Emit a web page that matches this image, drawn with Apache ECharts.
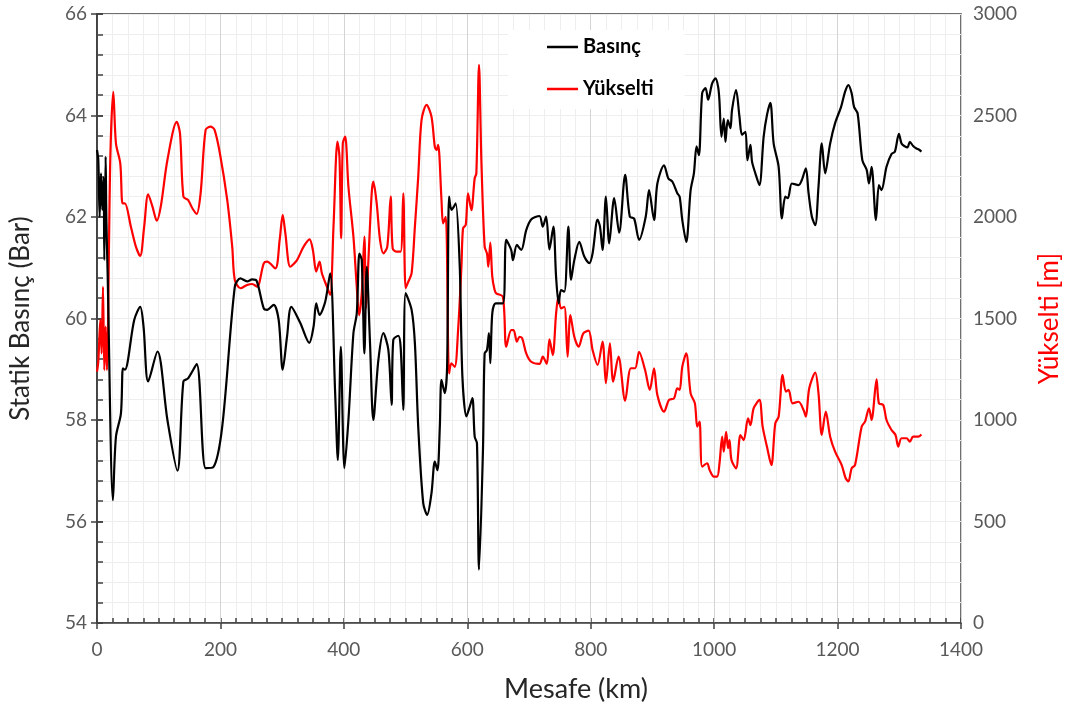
<!DOCTYPE html>
<html>
<head>
<meta charset="utf-8">
<script src="https://cdn.jsdelivr.net/npm/echarts@6/dist/echarts.min.js"></script>
<style>
  html, body { margin: 0; padding: 0; background: #fff; }
  #chart { width: 1071px; height: 711px; }
</style>
</head>
<body>
<div id="chart"></div>
<script>
//----------------------Data----------------------
// Basınç (Bar) vs distance (km)
let basinc_km = [0, 2.1, 4.3, 6.5, 8.6, 10.8, 11.8, 14.0, 15.1, 17.2, 25.8, 30.7, 38.8, 42.0, 45.2, 60.3, 70.0, 75.4, 82.9, 98.0,
    114.1, 130.3, 140.0, 147.5, 161.5, 176.0, 188.4, 202.9, 223.3, 232.5, 243.3, 251.4, 258.4, 270.2, 275.6, 286.3, 294.4, 300.9, 307.9, 314.9,
    329.4, 343.9, 350.9, 355.2, 360.6, 369.8, 377.8, 385.9, 390.2, 395.1, 400.9, 407.4, 415.5, 420.9, 425.2, 429.0, 433.3, 437.1, 442.4, 447.8,
    455.9, 464.0, 472.1, 477.4, 480.1, 488.2, 492.0, 496.3, 500.1, 509.8, 515.1, 520.5, 528.6, 535.0, 542.0, 547.4, 551.7, 555.5, 558.2, 563.5,
    567.3, 570.5, 574.3, 578.1, 581.3, 587.8, 592.1, 598.6, 603.9, 608.3, 612.0, 615.7, 619.0, 625.4, 628.1, 631.9, 635.1, 637.3, 640.5, 645.9,
    657.7, 663.1, 671.2, 673.9, 680.4, 687.4, 695.5, 703.5, 716.9, 722.3, 727.7, 733.1, 739.5, 743.9, 748.1, 751.9, 757.3, 763.8, 768.1, 773.4,
    781.5, 789.6, 797.7, 803.0, 811.1, 815.0, 819.2, 824.6, 830.0, 838.0, 846.1, 855.8, 863.3, 870.3, 878.4, 889.2, 894.5, 902.6, 908.0, 918.8,
    925.8, 932.2, 940.3, 944.1, 948.4, 954.8, 961.9, 967.2, 971.5, 975.3, 980.6, 986.1, 990.3, 996.7, 1002.2, 1006.4, 1008.5, 1011.8, 1015.6, 1018.3,
    1022.1, 1026.4, 1029.0, 1035.5, 1041.0, 1045.2, 1050.7, 1053.9, 1058.8, 1061.4, 1066.8, 1073.3, 1080.2, 1085.6, 1091.1, 1096.4, 1104.5, 1109.8, 1115.3, 1119.5,
    1126.0, 1136.8, 1142.1, 1148.6, 1153.0, 1158.3, 1163.8, 1169.1, 1174.4, 1179.9, 1188.0, 1196.0, 1205.7, 1212.2, 1217.5, 1222.8, 1226.7, 1232.5, 1240.1, 1247.1,
    1250.9, 1255.1, 1262.2, 1267.0, 1271.2, 1279.3, 1287.4, 1292.9, 1299.4, 1303.6, 1309.1, 1313.2, 1317.1, 1322.4, 1327.8, 1331.6, 1335.9];
let basinc_bar = [63.32, 63.12, 62.01, 62.86, 62.14, 62.79, 61.15, 63.19, 62.01, 60.90, 56.42, 57.67, 58.13, 59.02, 58.99, 59.97, 60.23, 59.84, 58.76, 59.35,
    58.00, 57.00, 58.76, 58.82, 59.10, 57.05, 57.07, 57.87, 60.63, 60.79, 60.73, 60.77, 60.75, 60.20, 60.17, 60.27, 59.97, 58.99, 59.64, 60.23,
    59.91, 59.52, 59.84, 60.30, 60.07, 60.33, 60.89, 58.53, 57.21, 59.44, 57.05, 58.00, 59.71, 60.10, 61.28, 61.15, 59.31, 61.02, 59.51, 58.00,
    59.18, 59.71, 59.38, 58.30, 59.58, 59.66, 59.44, 58.20, 60.50, 60.17, 59.51, 57.87, 56.36, 56.13, 56.56, 57.18, 57.01, 57.87, 58.79, 58.53,
    59.05, 62.40, 62.14, 62.20, 62.27, 61.02, 58.85, 58.07, 58.26, 58.43, 57.67, 57.54, 55.05, 57.41, 59.31, 59.38, 59.71, 59.12, 60.10, 60.30,
    60.30, 61.55, 61.35, 61.15, 61.45, 61.35, 61.74, 61.95, 62.02, 61.81, 62.01, 61.36, 61.81, 60.82, 60.30, 60.56, 60.53, 61.81, 60.76, 61.15,
    61.51, 61.22, 61.09, 61.28, 61.95, 61.81, 61.35, 62.40, 61.48, 62.37, 61.69, 62.83, 62.01, 61.97, 61.55, 62.01, 62.53, 61.94, 62.66, 63.02,
    62.76, 62.70, 62.47, 62.40, 61.94, 61.51, 62.53, 62.86, 63.39, 63.22, 64.44, 64.54, 64.31, 64.63, 64.73, 64.57, 64.31, 63.58, 63.94, 63.48,
    63.91, 63.75, 64.11, 64.50, 63.98, 63.62, 63.68, 63.12, 63.42, 63.09, 62.86, 62.63, 63.58, 64.01, 64.25, 63.45, 62.99, 61.97, 62.40, 62.37,
    62.66, 62.63, 62.73, 62.96, 62.47, 62.01, 61.84, 62.60, 63.45, 62.86, 63.45, 63.85, 64.17, 64.47, 64.60, 64.44, 64.17, 64.04, 63.12, 62.93,
    62.66, 62.99, 61.94, 62.63, 62.53, 62.99, 63.24, 63.29, 63.64, 63.45, 63.39, 63.37, 63.48, 63.40, 63.35, 63.33, 63.29];

// Yükselti (m) vs distance (km)
let yukselti_km = [0, 2.1, 5.4, 7.5, 9.7, 11.8, 14.0, 16.1, 21.5, 26.4, 30.7, 37.7, 41.4, 45.2, 54.9, 63.0, 70.0, 76.4, 82.9, 89.9,
    96.9, 103.3, 114.1, 129.2, 134.5, 140.0, 147.5, 154.5, 161.5, 167.9, 176.0, 184.1, 190.5, 199.1, 211.0, 219.1, 223.3, 232.5, 243.3, 251.4,
    259.5, 270.2, 275.6, 289.0, 296.0, 300.9, 305.2, 313.3, 324.1, 334.8, 344.4, 349.8, 355.2, 360.6, 364.4, 372.5, 377.8, 383.2, 389.6, 392.9,
    395.6, 398.3, 402.1, 407.4, 415.5, 420.9, 424.7, 429.0, 433.3, 436.0, 439.8, 445.1, 447.8, 453.2, 458.6, 464.0, 470.4, 475.9, 479.1, 485.6,
    492.0, 496.3, 500.1, 504.4, 509.8, 515.1, 520.5, 525.9, 534.0, 542.0, 547.4, 550.1, 552.8, 558.2, 560.8, 565.2, 570.5, 574.3, 579.7, 585.1,
    590.5, 593.1, 597.5, 601.2, 606.6, 612.0, 614.7, 619.0, 622.8, 628.1, 631.9, 634.1, 637.3, 640.5, 644.3, 647.0, 657.7, 663.1, 671.2, 675.0,
    680.4, 684.6, 689.0, 695.5, 703.5, 716.9, 722.3, 728.8, 733.1, 738.5, 743.9, 747.6, 751.9, 757.3, 762.6, 767.0, 773.4, 780.4, 788.0, 796.6,
    803.0, 811.1, 819.2, 824.6, 831.1, 836.4, 845.0, 855.8, 865.0, 872.0, 878.4, 888.1, 895.7, 902.6, 908.0, 918.8, 926.9, 935.0, 940.3, 944.1,
    948.4, 954.8, 961.9, 968.8, 972.6, 976.4, 980.6, 988.7, 992.6, 999.5, 1004.9, 1008.7, 1013.0, 1015.6, 1019.4, 1022.6, 1024.9, 1028.1, 1035.5, 1042.6,
    1047.9, 1054.9, 1058.8, 1064.1, 1073.3, 1078.6, 1085.6, 1092.7, 1099.1, 1104.5, 1110.9, 1116.3, 1120.6, 1127.1, 1136.8, 1144.9, 1148.6, 1154.1, 1163.8, 1169.1,
    1174.4, 1180.9, 1188.0, 1196.0, 1206.7, 1213.1, 1217.5, 1222.8, 1228.3, 1239.0, 1244.5, 1250.9, 1255.1, 1263.2, 1267.0, 1274.0, 1279.3, 1287.4, 1293.9, 1298.3,
    1303.6, 1311.7, 1317.1, 1322.4, 1330.5, 1335.9];
let yukselti_m = [1238, 1287, 1493, 1328, 1657, 1246, 1460, 1246, 2281, 2617, 2363, 2264, 2067, 2067, 1952, 1854, 1808, 1952, 2112, 2051,
    1982, 2051, 2281, 2469, 2412, 2100, 2084, 2043, 2015, 2117, 2429, 2445, 2429, 2314, 2084, 1854, 1690, 1649, 1665, 1670,
    1657, 1772, 1780, 1747, 1887, 2010, 1920, 1755, 1788, 1854, 1890, 1837, 1731, 1780, 1723, 1657, 1616, 1952, 2371, 2297,
    1895, 2363, 2396, 2149, 1903, 1657, 1517, 1624, 1903, 1550, 1788, 2117, 2174, 2067, 1887, 1821, 1854, 2100, 1846, 1829,
    1829, 2117, 1649, 1681, 1723, 1952, 2198, 2478, 2552, 2494, 2346, 2330, 2355, 2084, 1969, 2001, 1230, 1279, 1262, 1443,
    1755, 1944, 1961, 2117, 2034, 2191, 2215, 2750, 2281, 1854, 1821, 1755, 1874, 1706, 1640, 1624, 1607, 1361, 1443, 1443,
    1386, 1410, 1402, 1328, 1287, 1276, 1312, 1276, 1397, 1320, 1525, 1607, 1550, 1558, 1312, 1517, 1410, 1361, 1427, 1440,
    1345, 1271, 1386, 1181, 1378, 1189, 1312, 1095, 1255, 1255, 1336, 1246, 1148, 1255, 1123, 1041, 1099, 1107, 1156, 1148,
    1263, 1328, 1131, 1082, 967, 992, 770, 787, 754, 721, 721, 787, 918, 844, 942, 861, 901, 803, 762, 926,
    901, 1008, 975, 1058, 1099, 967, 868, 778, 984, 1016, 1222, 1140, 1148, 1082, 1090, 1049, 1016, 1156, 1233, 1131,
    926, 1041, 918, 844, 778, 713, 697, 762, 778, 967, 992, 1058, 1000, 1200, 1082, 1074, 1000, 951, 926, 869,
    910, 910, 893, 918, 918, 929];

let x_ticks = [0, 200, 400, 600, 800, 1000, 1200, 1400];

//------------------Build series------------------
let basinc_data = basinc_km.map((k, i) => [k, basinc_bar[i]]);
let yukselti_data = yukselti_km.map((k, i) => [k, yukselti_m[i]]);

let font_name = "Lato";
let axis_dark = "#404040";
let label_color = "#595959";

let chart = echarts.init(document.getElementById("chart"), null, {renderer: "canvas"});

let option = {
    backgroundColor: "#ffffff",
    animation: false,
    textStyle: {fontFamily: font_name},
    grid: {
        left: 96, right: 108, top: 14, bottom: 88,
        show: true, borderColor: axis_dark, borderWidth: 1.5,
        backgroundColor: "transparent"
    },
    legend: {
        left: 508, top: 30,
        orient: "vertical",
        backgroundColor: "#ffffff",
        padding: [7, 31, 10, 39],
        itemGap: 22,
        itemWidth: 31, itemHeight: 2.5,
        icon: "rect",
        textStyle: {fontFamily: font_name, fontSize: 20, fontWeight: "bold", color: "#000"},
        data: ["Basınç", "Yükselti"]
    },
    xAxis: [
        {
            type: "value", min: 0, max: 1400, interval: 200, z: 1,
            name: "Mesafe (km)", nameLocation: "middle", nameGap: 53,
            nameTextStyle: {fontFamily: font_name, fontSize: 27, color: "#262626", padding: [0, 0, 0, 94]},
            axisLine: {show: true, lineStyle: {color: axis_dark, width: 1.5}},
            axisTick: {show: true, inside: false, length: 6, lineStyle: {color: axis_dark, width: 1.5}},
            axisLabel: {margin: 17, fontSize: 19, color: label_color, fontFamily: font_name,
                formatter: v => x_ticks.indexOf(v) >= 0 ? String(v) : ""},
            splitLine: {show: true, lineStyle: {color: "#d4d4d4", width: 1}}
        },
        {
            type: "value", min: 0, max: 1400, interval: 25, z: 0, position: "bottom",
            axisLine: {show: false},
            axisTick: {show: true, inside: true, length: 5, lineStyle: {color: axis_dark, width: 1.5}},
            axisLabel: {show: false},
            splitLine: {show: true, lineStyle: {color: "#eeeeee", width: 1}}
        }
    ],
    yAxis: [
        {
            type: "value", min: 54, max: 66, interval: 2, position: "left", z: 1,
            name: "Statik Basınç (Bar)", nameLocation: "middle", nameGap: 63,
            nameTextStyle: {fontFamily: font_name, fontSize: 26, color: "#262626"},
            axisLine: {show: true, lineStyle: {color: axis_dark, width: 1.5}},
            axisTick: {show: true, inside: false, length: 6, lineStyle: {color: axis_dark, width: 1.5}},
            axisLabel: {margin: 10, fontSize: 19, color: label_color, fontFamily: font_name},
            splitLine: {show: false}
        },
        {
            type: "value", min: 0, max: 3000, interval: 500, position: "right", z: 1,
            name: "Yükselti [m]", nameLocation: "middle", nameGap: 76,
            nameTextStyle: {fontFamily: font_name, fontSize: 26, color: "#ff0000"},
            axisLine: {show: true, lineStyle: {color: axis_dark, width: 1.5}},
            axisTick: {show: true, inside: false, length: 6, lineStyle: {color: axis_dark, width: 1.5}},
            axisLabel: {margin: 12, fontSize: 19, color: label_color, fontFamily: font_name,
                formatter: v => String(v)},
            splitLine: {show: false}
        },
        {
            type: "value", min: 54, max: 66, interval: 0.4, position: "left", z: 0,
            axisLine: {show: false},
            axisTick: {show: true, inside: true, length: 6, lineStyle: {color: axis_dark, width: 1.5}},
            axisLabel: {show: false},
            splitLine: {show: true, lineStyle: {color: "#eeeeee", width: 1}}
        }
    ],
    series: [
        {
            name: "Basınç", type: "line", xAxisIndex: 0, yAxisIndex: 0,
            data: basinc_data, showSymbol: false, smooth: 0.3, z: 3,
            lineStyle: {color: "#000000", width: 2.2},
            itemStyle: {color: "#000000"}
        },
        {
            name: "Yükselti", type: "line", xAxisIndex: 0, yAxisIndex: 1,
            data: yukselti_data, showSymbol: false, smooth: 0.3, z: 2,
            lineStyle: {color: "#ff0000", width: 2.2},
            itemStyle: {color: "#ff0000"}
        }
    ]
};

chart.setOption(option, true);
</script>
</body>
</html>
